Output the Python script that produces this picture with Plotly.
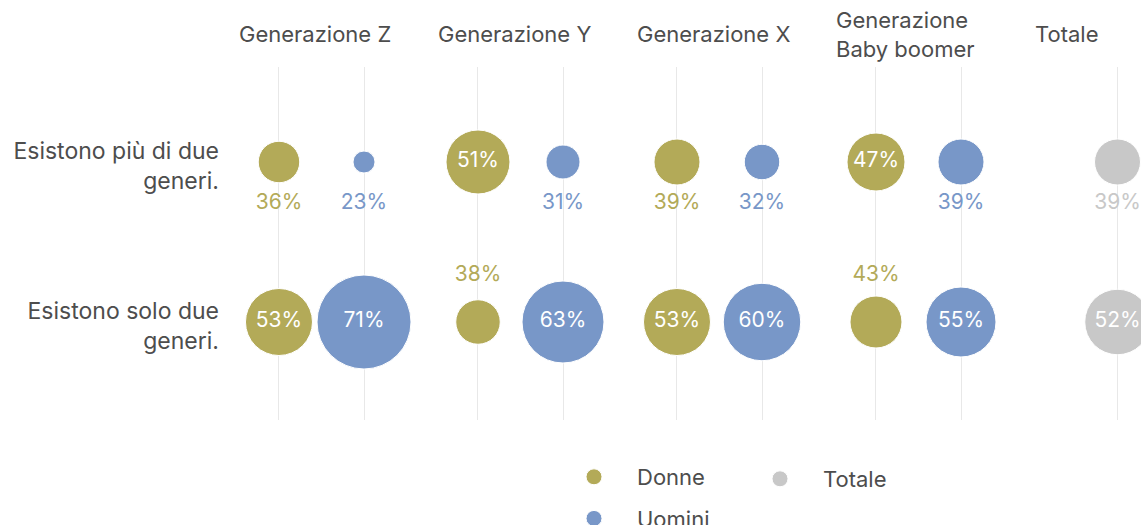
import plotly.graph_objects as go

# ---- data ----
columns = ["Generazione Z", "Generazione Y", "Generazione X", "Generazione<br>Baby boomer", "Totale"]
rows = ["Esistono più di due<br>generi.", "Esistono solo due<br>generi."]
series = ["Donne", "Uomini", "Totale"]
donne = [[36, 51, 39, 47], [53, 38, 53, 43]]     # [row][generation]
uomini = [[23, 31, 32, 39], [71, 63, 60, 55]]
totale = [39, 52]                                  # [row]

# ---- style ----
FONT = "Inter"
TXT = "#4d4d4d"
COL = {"Donne": "#b3aa58", "Uomini": "#7897c8", "Totale": "#c8c8c8"}
OFF = 0.2136          # half distance between Donne and Uomini inside a group
INSIDE_MIN = 45       # labels inside bubbles from this value
LBL_BELOW = 0.263     # outside label offset, row 0 (below)
LBL_ABOVE = -0.287    # outside label offset, row 1 (above)
FS_LBL = 21
FS_TXT = 22

W, H = 1141, 525
ML, MR, MT, MB = 228, 0, 67, 105
PW, PH = W - ML - MR, H - MT - MB


def px_x(p):  # figure pixel -> paper x
    return (p - ML) / PW


def px_y(p):  # figure pixel -> paper y
    return (H - MB - p) / PH


def diam(v):
    return 1.5 * v - 12.5


fig = go.Figure()


def add_series(name, xs, ys, vals, legend):
    col = COL[name]
    fig.add_trace(go.Scatter(
        x=xs, y=ys, mode="markers", name=name, legend=legend, legendgroup=name,
        marker=dict(size=[diam(v) for v in vals], sizemode="diameter", color=col,
                    opacity=1, line=dict(color="white", width=1)),
        hoverinfo="skip", cliponaxis=False))
    ix = [x for x, v in zip(xs, vals) if v >= INSIDE_MIN]
    iy = [y for y, v in zip(ys, vals) if v >= INSIDE_MIN]
    it = [f"{v}%" for v in vals if v >= INSIDE_MIN]
    fig.add_trace(go.Scatter(x=ix, y=iy, text=it, mode="text", showlegend=False,
                             textfont=dict(color="white", size=FS_LBL, family=FONT),
                             hoverinfo="skip", cliponaxis=False))
    ox, oy, ot = [], [], []
    for x, y, v in zip(xs, ys, vals):
        if v < INSIDE_MIN:
            ox.append(x)
            oy.append(y + (LBL_BELOW if y == 0 else LBL_ABOVE))
            ot.append(f"{v}%")
    fig.add_trace(go.Scatter(x=ox, y=oy, text=ot, mode="text", showlegend=False,
                             textfont=dict(color=col, size=FS_LBL, family=FONT),
                             hoverinfo="skip", cliponaxis=False))


ngen = len(donne[0])
for name, data, sgn in [("Donne", donne, -1), ("Uomini", uomini, 1)]:
    xs, ys, vals = [], [], []
    for r in range(len(rows)):
        for g in range(ngen):
            xs.append(g + sgn * OFF)
            ys.append(r)
            vals.append(data[r][g])
    add_series(name, xs, ys, vals, "legend")

add_series("Totale", [ngen] * len(rows), list(range(len(rows))), totale, "legend2")

grid_x = [g + s * OFF for g in range(ngen) for s in (-1, 1)] + [ngen]

for i, c in enumerate(columns):
    fig.add_annotation(x=i - 0.425, xref="x", y=px_y(34), yref="paper",
                       text=c, showarrow=False, xanchor="left", yanchor="middle",
                       align="left", font=dict(size=FS_TXT, color=TXT, family=FONT))

fig.update_layout(
    width=W, height=H,
    margin=dict(l=ML, r=MR, t=MT, b=MB, autoexpand=False),
    plot_bgcolor="white", paper_bgcolor="white",
    font=dict(family=FONT, size=FS_TXT, color=TXT),
    xaxis=dict(range=[-0.4698, 4.1181], tickvals=grid_x, showticklabels=False,
               showgrid=True, gridcolor="#e8e8e8", gridwidth=1, zeroline=False,
               showline=False, ticks=""),
    yaxis=dict(range=[1.6125, -0.59375], tickvals=list(range(len(rows))), ticktext=rows,
               showgrid=False, zeroline=False, showline=False, ticks="",
               ticklabelstandoff=8, ticklabelshift=-4,
               tickfont=dict(size=23, color=TXT, family=FONT)),
    legend=dict(x=px_x(551), y=px_y(456), xanchor="left", yanchor="top",
                orientation="v", itemwidth=76, tracegroupgap=10,
                font=dict(size=FS_TXT, color=TXT, family=FONT), bgcolor="rgba(0,0,0,0)"),
    legend2=dict(x=px_x(737), y=px_y(458), xanchor="left", yanchor="top",
                 orientation="v", itemwidth=76,
                 font=dict(size=FS_TXT, color=TXT, family=FONT), bgcolor="rgba(0,0,0,0)"),
    showlegend=True,
)

fig.write_html("out.html", config={"displayModeBar": False},
               post_script="document.body.style.margin='0';document.body.style.overflow='hidden';")
